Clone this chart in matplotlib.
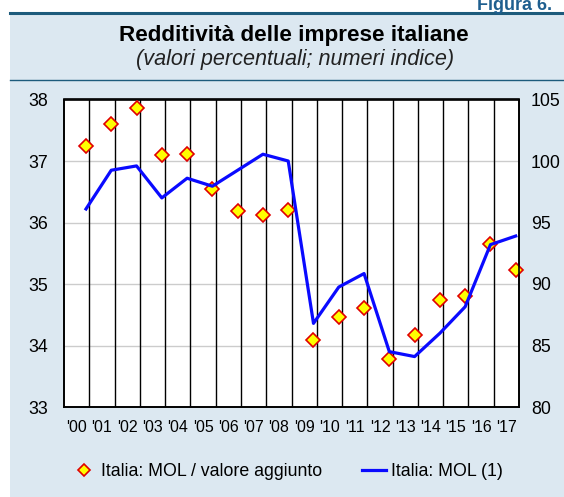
import numpy as np
import matplotlib.pyplot as plt
from matplotlib.patches import Rectangle
from matplotlib.lines import Line2D

plt.rcParams['font.family'] = ['Liberation Sans', 'DejaVu Sans']

# data
years = ["'00", "'01", "'02", "'03", "'04", "'05", "'06", "'07", "'08",
         "'09", "'10", "'11", "'12", "'13", "'14", "'15", "'16", "'17"]
mol_va = [37.25, 37.60, 37.86, 37.09, 37.12, 36.54, 36.19, 36.12, 36.20,
          34.09, 34.46, 34.61, 33.78, 34.17, 34.74, 34.81, 35.65, 35.23]
mol_idx = [96.1, 99.25, 99.6, 97.0, 98.6, 97.95, 99.25, 100.55, 100.0,
           86.8, 89.75, 90.85, 84.5, 84.1, 86.0, 88.15, 93.2, 93.9]

W, H = 564, 497
fig = plt.figure(figsize=(W / 100, H / 100), dpi=100)
fig.patch.set_facecolor('white')

bg = '#dce8f1'
dark = '#1d5b7c'
fig.patches.append(Rectangle((10 / W, 0), 1 - 10 / W, 1 - 13 / H,
                             transform=fig.transFigure, facecolor=bg,
                             edgecolor='none', zorder=-10))
fig.add_artist(Line2D([10 / W, 1], [1 - 12.5 / H] * 2, color=dark, lw=2.2))
fig.add_artist(Line2D([10 / W, 1], [1 - 80 / H] * 2, color=dark, lw=1.0))

# page label, cut at the top edge like in the source
fig.text(477 / W, 1 - 10 / H, 'Figura 6.', color='#1f5f8f', fontsize=13,
         fontweight='bold', ha='left', va='baseline')
fig.text(294 / W, 1 - 35 / H, 'Redditività delle imprese italiane',
         fontsize=16.2, fontweight='bold', ha='center', va='center')
fig.text(295 / W, 1 - 59 / H, '(valori percentuali; numeri indice)',
         fontsize=15.6, style='italic', ha='center', va='center', color='#222222')

ax = fig.add_axes([64 / W, 1 - 407 / H, (519 - 64) / W, (407 - 99.5) / H])
ax.set_facecolor('white')
n = len(years)
x = np.arange(n) + 0.87

ax.set_xlim(0, n)
ax.set_ylim(33, 38)
for b in range(1, n):
    ax.axvline(b, color='black', lw=1.0, zorder=1)
for yv in [34, 35, 36, 37]:
    ax.axhline(yv, color='#cccccc', lw=1.0, zorder=0.5)

ax.plot(x, mol_va, linestyle='none', marker='D', markersize=7,
        markerfacecolor='#ffff00', markeredgecolor='#e00000',
        markeredgewidth=1.2, zorder=3, clip_on=False)

ax.set_xticks(np.arange(n) + 0.5)
ax.set_xticklabels(years)
ax.set_yticks([33, 34, 35, 36, 37, 38])
ax.tick_params(axis='x', length=0, pad=9, labelsize=11.5)
ax.tick_params(axis='y', length=0, pad=11.5, labelsize=12.8)
for s in ax.spines.values():
    s.set_linewidth(1.2)

ax2 = ax.twinx()
ax2.set_ylim(80, 105)
ax2.set_yticks([80, 85, 90, 95, 100, 105])
ax2.tick_params(axis='y', length=0, pad=8.6, labelsize=12.8)
ax2.plot(x, mol_idx, color='#0a0aff', lw=2.3, zorder=4)
for s in ax2.spines.values():
    s.set_linewidth(1.2)

handles = [Line2D([], [], linestyle='none', marker='D', markersize=6,
                  markerfacecolor='#ffff00', markeredgecolor='#e00000',
                  markeredgewidth=1.2),
           Line2D([], [], color='#0a0aff', lw=2.3)]
fig.legend(handles, ['Italia: MOL / valore aggiunto', 'Italia: MOL (1)'],
           loc='center', bbox_to_anchor=(287.5 / W, 1 - 472 / H), ncol=2,
           frameon=False, fontsize=12.8, handlelength=1.35, handletextpad=0.3,
           columnspacing=2.2)

fig.savefig('out.png', dpi=100)
